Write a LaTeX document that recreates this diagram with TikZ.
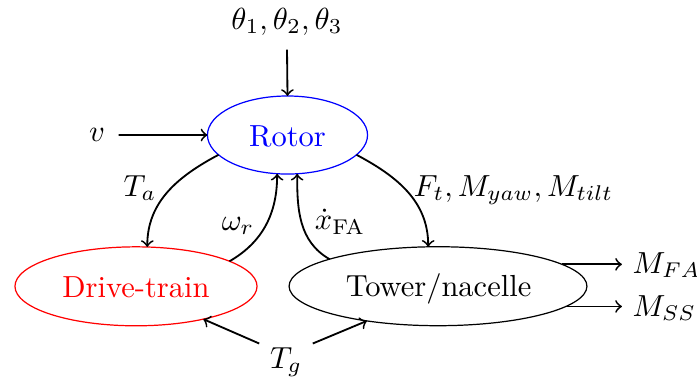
\documentclass[tikz,border=0pt]{standalone}
\usetikzlibrary{shapes.geometric}
\begin{document}
\begin{tikzpicture}[x=0.328pt,y=-0.328pt,
  blk/.style={ellipse,draw,inner sep=0pt,outer sep=0pt},
  lbl/.style={anchor=base,inner sep=0pt},
  arr/.style={->,semithick}]
\useasboundingbox (0,0) rectangle (697,383);
\node[blk,draw=blue,text=blue,minimum width=52.5pt,minimum height=25.6pt] (rotor) at (287.5,135) {};
\node[lbl,text=blue] (rotortxt) at (287.5,146) {Rotor};
\node[blk,draw=red,text=red,minimum width=79.4pt,minimum height=25.9pt] (drive) at (136,286.3) {};
\node[lbl,text=red] (drivetxt) at (136,297.7) {Drive-train};
\node[blk,minimum width=97.7pt,minimum height=25.9pt] (tower) at (438,286.2) {};
\node[lbl] (towertxt) at (438.5,296) {Tower/nacelle};

\node[lbl] (theta) at (287,29) {$\theta_1,\theta_2,\theta_3$};
\node[lbl] (v) at (97,141.5) {$v$};
\node[lbl] (ta) at (140,196) {$T_a$};
\node[lbl] (wr) at (238,230) {$\omega_r$};
\node[lbl] (xfa) at (340,229.5) {$\dot{x}_{\mathrm{FA}}$};
\node[lbl] (ft) at (513.5,196) {$F_t, M_{yaw}, M_{tilt}$};
\node[anchor=base west,inner sep=0pt] (mfa) at (632,273.3) {$M_{FA}$};
\node[anchor=base west,inner sep=0pt] (mss) at (632,316) {$M_{SS}$};
\node[anchor=base] (tg) at (286,368.3) {$T_g$};

\path (theta.south) ++(0,14) coordinate (thb);
\draw[arr] (thb) -- (rotor.north);
\path (v.east) ++(13,0) coordinate (vb);
\draw[arr] (vb) -- (rotor.west);
\draw[arr] (rotor.196) to[out=208,in=90] (drive.74);
\draw[arr] (drive.15) to[out=30,in=-90] (rotor.255);
\draw[arr] (tower.166) to[out=150,in=-90] (rotor.284);
\draw[arr] (rotor.344) to[out=-28,in=90] (tower.104);
\coordinate (mfas) at (tower.10);
\draw[arr] (mfas) -- ([xshift=-3.3pt]mfas -| mfa.west);
\coordinate (msss) at (tower.-9.5);
\draw[arr] (msss) -- ([xshift=-3.3pt]msss -| mss.west);
\draw[arr] (tg.145) -- (drive.334);
\draw[arr] (tg.35) -- (tower.206);
\end{tikzpicture}
\end{document}
